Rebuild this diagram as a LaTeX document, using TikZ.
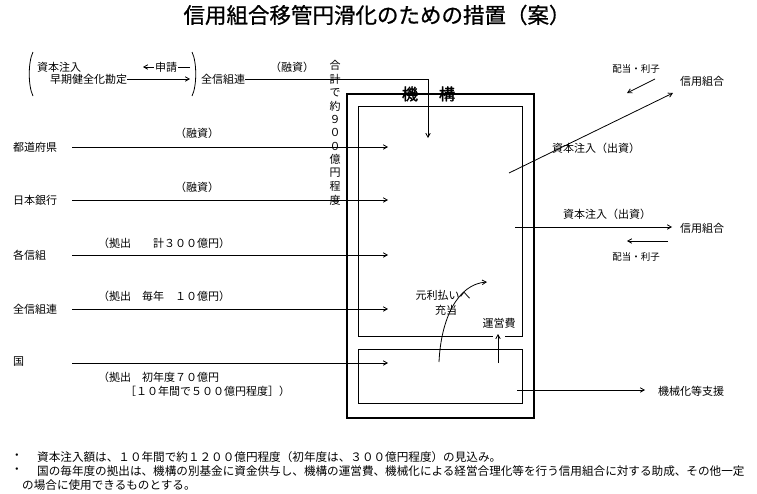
\documentclass[tikz,border=0pt]{standalone}
\usepackage{fontspec}
\setmainfont{Noto Sans CJK JP}
\newfontfamily\jpbold[FakeBold=2]{Noto Sans CJK JP}
\newfontfamily\jptitle[FakeBold=0.8]{Noto Sans CJK JP}
\usetikzlibrary{arrows.meta}
\begin{document}
\begin{tikzpicture}[x=1pt,y=-1pt,
  ln/.style={line width=0.8pt},
  arr/.style={line width=0.8pt,-{Straight Barb[length=4pt,width=4.5pt]}},
  lbl/.style={inner sep=0pt,font=\fontsize{11}{13}\selectfont},
  small/.style={inner sep=0pt,font=\fontsize{9.5}{11}\selectfont},
  vch/.style={inner sep=0pt,font=\fontsize{11}{12}\selectfont},
  fn/.style={inner sep=0pt,font=\fontsize{11.6}{13}\selectfont},
]
\useasboundingbox (0,0) rectangle (757,493);
\fill[white] (0,0) rectangle (757,493);

% title
\node[inner sep=0pt,font=\jptitle\fontsize{21.5}{24}\selectfont] (title) at (377,15) {信用組合移管円滑化のための措置（案）};

% organisation boxes
\draw[line width=2.5pt] (347,94) rectangle (534,418);
\coordinate (ubl) at (358,336);
\coordinate (ubr) at (522,336);
\draw[ln] (505,336) -- (ubr) -- (522,106) -- (358,106) -- (ubl) -- (493,336);
\draw[ln] (358,349) rectangle (522,403);
\node[inner sep=0pt,font=\jpbold\fontsize{16}{18}\selectfont] (kiko) at (428.5,94) {機\hspace{21pt}構};

% top-left block
\draw[ln] (33,52) .. controls (28,62) and (28,86) .. (33,96);
\draw[ln] (192,52) .. controls (197,62) and (197,86) .. (192,96);
\node[lbl,anchor=west] (shihonchunyu) at (37,67) {資本注入};
\node[lbl,anchor=west] (soki) at (50,79) {早期健全化勘定};
\coordinate (sh1) at (190,67);
\coordinate (sh2) at (143,67);
\draw[arr] (sh1) -- (sh2);
\node[lbl,fill=white,inner xsep=1pt] (shinsei) at (166,67) {申請};
\coordinate (sk) at (190,79);
\draw[arr] (soki.east) -- (sk);
\node[lbl,anchor=west] (zenshinren0) at (201,79) {全信組連};
\coordinate (inTop) at (428,138);
\draw[arr] (zenshinren0.east) -- (428,79) -- (inTop);
\node[lbl] (yushi0) at (292,67) {（融資）};

% vertical text
\foreach \c [count=\i from 0] in {合,計,で,約,９,０,０,億,円,程,度}
  \node[vch] (v\i) at (335,65.6+13.44*\i) {\c};

% left sources
\node[lbl,anchor=west] (todo) at (13,147) {都道府県};
\node[lbl,anchor=west] (nichigin) at (13,200) {日本銀行};
\node[lbl,anchor=west] (kakushin) at (13,255) {各信組};
\node[lbl,anchor=west] (zenshinren) at (13,309) {全信組連};
\node[lbl,anchor=west] (kuni) at (13,362) {国};

\foreach \n/\y in {a/147,b/200,c/255,d/309,e/363} {
  \coordinate (s\n) at (72,\y);
  \coordinate (t\n) at (388,\y);
  \draw[arr] (s\n) -- (t\n);
}

\node[lbl] (yushi1) at (197,133) {（融資）};
\node[lbl] (yushi2) at (197,187) {（融資）};
\node[lbl,anchor=west] (kyo1) at (98,243) {（拠出\hspace{22pt}計３００億円）};
\node[lbl,anchor=west] (kyo2) at (98,296) {（拠出　毎年　１０億円）};
\node[lbl,anchor=west] (kyo3) at (98,377) {（拠出　初年度７０億円};
\node[lbl,anchor=west] (kyo4) at (125,391) {［１０年間で５００億円程度］）};

% inner labels
\node[lbl] (ganri) at (443,295) {元利払いへ};
\node[lbl] (juto) at (446,310) {充当};
\node[lbl] (uneihi) at (499,323) {運営費};
\coordinate (cv0) at (439,362);
\coordinate (cv1) at (487,282);
\draw[arr] (cv0) .. controls (441,318) and (458,284) .. (cv1);
\coordinate (un0) at (498,363);
\coordinate (un1) at (498,334);
\draw[arr] (un0) -- (un1);

% right side
\node[small] (haito1) at (636,69) {配当・利子};
\node[lbl,anchor=west] (shinyo1) at (680,81) {信用組合};
\coordinate (h1a) at (655,79);
\coordinate (h1b) at (627,93);
\draw[arr] (h1a) -- (h1b);
\coordinate (d0) at (509,173);
\coordinate (d1) at (673,93);
\draw[arr] (d0) -- (d1);
\node[lbl,anchor=west] (shihon1) at (552,148) {資本注入（出資）};

\node[lbl,anchor=west] (shihon2) at (563,214) {資本注入（出資）};
\node[lbl,anchor=west] (shinyo2) at (680,228) {信用組合};
\coordinate (r0) at (515,227);
\coordinate (r1) at (672,227);
\draw[arr] (r0) -- (r1);
\coordinate (h2a) at (668,241);
\coordinate (h2b) at (627,241);
\draw[arr] (h2a) -- (h2b);
\node[small] (haito2) at (636,257) {配当・利子};

\coordinate (m0) at (517,390);
\coordinate (m1) at (645,390);
\node[lbl,anchor=west] (kikaika) at (658,391) {機械化等支援};
\draw[arr] (m0) -- (m1);

% footnotes
\node[fn] (b1) at (17,457) {・};
\node[fn,anchor=west] (f1) at (37,457) {資本注入額は、１０年間で約１２００億円程度（初年度は、３００億円程度）の見込み。};
\node[fn] (b2) at (17,471) {・};
\node[fn,anchor=west] (f2) at (37,471) {国の毎年度の拠出は、機構の別基金に資金供与し、機構の運営費、機械化による経営合理化等を行う信用組合に対する助成、その他一定};
\node[fn,anchor=west] (f3) at (22,485) {の場合に使用できるものとする。};
\end{tikzpicture}
\end{document}
